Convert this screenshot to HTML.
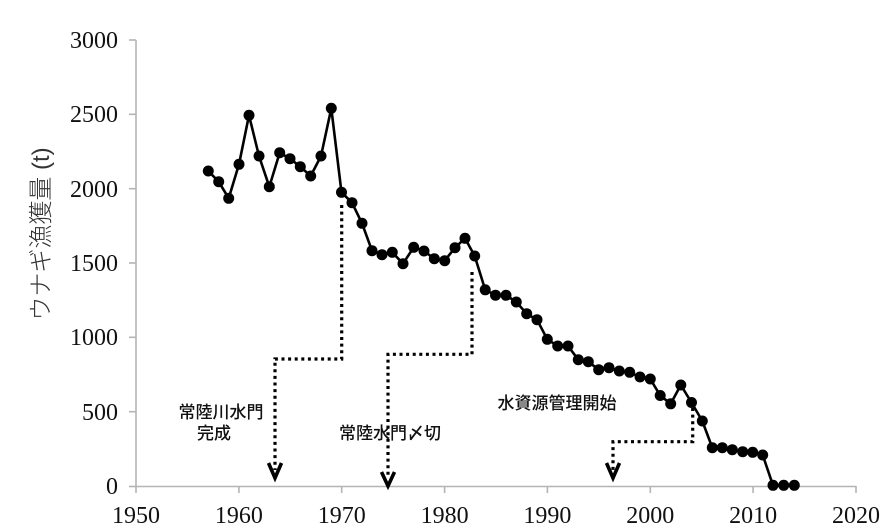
<!DOCTYPE html>
<html>
<head>
<meta charset="utf-8">
<style>
html,body{margin:0;padding:0;background:#fff;}
svg{display:block;}
.tick{font-family:"Liberation Serif","Noto Serif CJK SC",serif;font-size:24px;fill:#111;}
.lab{font-family:"Liberation Sans","Noto Sans CJK JP",sans-serif;font-size:17px;font-weight:500;fill:#111;}
.yt{font-family:"Liberation Sans","Noto Sans CJK JP",sans-serif;font-size:24px;font-weight:300;fill:#333;}
</style>
</head>
<body>
<svg width="886" height="530" viewBox="0 0 886 530" xmlns="http://www.w3.org/2000/svg">
<rect width="886" height="530" fill="#fff"/>
<g stroke="#b4b4b4" stroke-width="1.6" fill="none">
<line x1="136" y1="40" x2="136" y2="486.5"/>
<line x1="136" y1="486.5" x2="856" y2="486.5"/>
<line x1="129" y1="40" x2="136" y2="40"/>
<line x1="129" y1="114.3" x2="136" y2="114.3"/>
<line x1="129" y1="188.7" x2="136" y2="188.7"/>
<line x1="129" y1="263" x2="136" y2="263"/>
<line x1="129" y1="337.3" x2="136" y2="337.3"/>
<line x1="129" y1="411.7" x2="136" y2="411.7"/>
<line x1="129" y1="486.5" x2="136" y2="486.5"/>
<line x1="136" y1="486" x2="136" y2="493"/>
<line x1="238.9" y1="486" x2="238.9" y2="493"/>
<line x1="341.7" y1="486" x2="341.7" y2="493"/>
<line x1="444.6" y1="486" x2="444.6" y2="493"/>
<line x1="547.4" y1="486" x2="547.4" y2="493"/>
<line x1="650.3" y1="486" x2="650.3" y2="493"/>
<line x1="753.1" y1="486" x2="753.1" y2="493"/>
<line x1="856" y1="486" x2="856" y2="493"/>
</g>
<g class="tick" text-anchor="end">
<text x="118" y="48">3000</text>
<text x="118" y="122">2500</text>
<text x="118" y="197">2000</text>
<text x="118" y="271">1500</text>
<text x="118" y="345">1000</text>
<text x="118" y="420">500</text>
<text x="118" y="494">0</text>
</g>
<g class="tick" text-anchor="middle">
<text x="136" y="523">1950</text>
<text x="238.9" y="523">1960</text>
<text x="341.7" y="523">1970</text>
<text x="444.6" y="523">1980</text>
<text x="547.4" y="523">1990</text>
<text x="650.3" y="523">2000</text>
<text x="753.1" y="523">2010</text>
<text x="856" y="523">2020</text>
</g>
<text class="yt" transform="translate(49,234) rotate(-90)" text-anchor="middle">ウナギ漁獲量 (t)</text>
<g stroke="#000" stroke-width="3.2" fill="none" stroke-dasharray="3 3.6">
<polyline points="341.7,205 341.7,359 275,359 275,470"/>
<polyline points="472,272 472,354.3 388,354.3 388,478"/>
<polyline points="692.7,408 692.7,441.7 613,441.7 613,470"/>
</g>
<g stroke="#000" stroke-width="3.6" fill="none">
<polyline points="268.5,463 275,478 281.5,463"/>
<polyline points="381.5,472 388,486 394.5,472"/>
<polyline points="606.5,463 613,478 619.5,463"/>
</g>
<g class="lab" text-anchor="middle">
<text x="221" y="418">常陸川水門</text>
<text x="214" y="439">完成</text>
<text x="390" y="439">常陸水門〆切</text>
<text x="557" y="409">水資源管理開始</text>
</g>
<polyline fill="none" stroke="#000" stroke-width="2.6" stroke-linejoin="round" points="208.3,171 218.7,181.7 228.7,198.3 239,164.3 249,115.3 259,156 269.3,186.7 279.7,152.7 290,158.7 300.3,166.7 310.7,176 321,156 331.3,108.3 341.5,192.3 352,202.7 362,223.3 372,250.7 382,254.7 392.3,252.3 403,263.7 413.7,247.3 424,251 434.3,258.7 444.7,260.7 455,247.7 465,238.3 474.7,256 485.2,289.8 495.5,295.2 506,295.3 516.3,302 526.7,313.7 537,319.7 547.3,339.3 557.7,346 568,346 578.3,359.7 588.3,361.7 598.7,369.7 609,367.7 619.3,371 629.7,372.3 640,377 650.3,379 660.2,395.5 670.7,403.8 680.8,385 691.5,402.5 702.3,421 712.3,447.7 722.3,447.7 732.3,449.7 742.7,451.7 752.7,452.3 762.7,455 773,485.3 783.7,485.3 794.3,485.3"/>
<g fill="#000">
<circle cx="208.3" cy="171" r="5.5"/>
<circle cx="218.7" cy="181.7" r="5.5"/>
<circle cx="228.7" cy="198.3" r="5.5"/>
<circle cx="239" cy="164.3" r="5.5"/>
<circle cx="249" cy="115.3" r="5.5"/>
<circle cx="259" cy="156" r="5.5"/>
<circle cx="269.3" cy="186.7" r="5.5"/>
<circle cx="279.7" cy="152.7" r="5.5"/>
<circle cx="290" cy="158.7" r="5.5"/>
<circle cx="300.3" cy="166.7" r="5.5"/>
<circle cx="310.7" cy="176" r="5.5"/>
<circle cx="321" cy="156" r="5.5"/>
<circle cx="331.3" cy="108.3" r="5.5"/>
<circle cx="341.5" cy="192.3" r="5.5"/>
<circle cx="352" cy="202.7" r="5.5"/>
<circle cx="362" cy="223.3" r="5.5"/>
<circle cx="372" cy="250.7" r="5.5"/>
<circle cx="382" cy="254.7" r="5.5"/>
<circle cx="392.3" cy="252.3" r="5.5"/>
<circle cx="403" cy="263.7" r="5.5"/>
<circle cx="413.7" cy="247.3" r="5.5"/>
<circle cx="424" cy="251" r="5.5"/>
<circle cx="434.3" cy="258.7" r="5.5"/>
<circle cx="444.7" cy="260.7" r="5.5"/>
<circle cx="455" cy="247.7" r="5.5"/>
<circle cx="465" cy="238.3" r="5.5"/>
<circle cx="474.7" cy="256" r="5.5"/>
<circle cx="485.2" cy="289.8" r="5.5"/>
<circle cx="495.5" cy="295.2" r="5.5"/>
<circle cx="506" cy="295.3" r="5.5"/>
<circle cx="516.3" cy="302" r="5.5"/>
<circle cx="526.7" cy="313.7" r="5.5"/>
<circle cx="537" cy="319.7" r="5.5"/>
<circle cx="547.3" cy="339.3" r="5.5"/>
<circle cx="557.7" cy="346" r="5.5"/>
<circle cx="568" cy="346" r="5.5"/>
<circle cx="578.3" cy="359.7" r="5.5"/>
<circle cx="588.3" cy="361.7" r="5.5"/>
<circle cx="598.7" cy="369.7" r="5.5"/>
<circle cx="609" cy="367.7" r="5.5"/>
<circle cx="619.3" cy="371" r="5.5"/>
<circle cx="629.7" cy="372.3" r="5.5"/>
<circle cx="640" cy="377" r="5.5"/>
<circle cx="650.3" cy="379" r="5.5"/>
<circle cx="660.2" cy="395.5" r="5.5"/>
<circle cx="670.7" cy="403.8" r="5.5"/>
<circle cx="680.8" cy="385" r="5.5"/>
<circle cx="691.5" cy="402.5" r="5.5"/>
<circle cx="702.3" cy="421" r="5.5"/>
<circle cx="712.3" cy="447.7" r="5.5"/>
<circle cx="722.3" cy="447.7" r="5.5"/>
<circle cx="732.3" cy="449.7" r="5.5"/>
<circle cx="742.7" cy="451.7" r="5.5"/>
<circle cx="752.7" cy="452.3" r="5.5"/>
<circle cx="762.7" cy="455" r="5.5"/>
<circle cx="773" cy="485.3" r="5.5"/>
<circle cx="783.7" cy="485.3" r="5.5"/>
<circle cx="794.3" cy="485.3" r="5.5"/>
</g>
</svg>
</body>
</html>
